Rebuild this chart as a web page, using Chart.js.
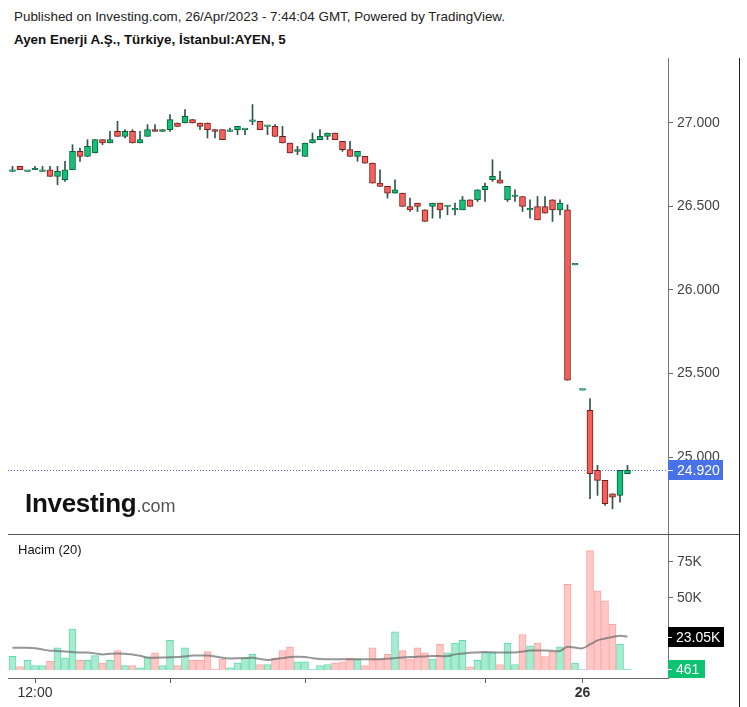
<!DOCTYPE html>
<html><head><meta charset="utf-8">
<script src="https://cdn.jsdelivr.net/npm/chart.js@4.4.0/dist/chart.umd.min.js"></script>
<style>
body{margin:0;background:#fff;width:747px;height:707px;position:relative;overflow:hidden;font-family:"Liberation Sans",Arial,sans-serif;}
.t1{position:absolute;left:14px;top:9px;font-size:13.4px;color:#222;white-space:nowrap;}
.t2{position:absolute;left:14px;top:32px;font-size:13.4px;font-weight:bold;color:#111;white-space:nowrap;}
#c1{position:absolute;left:0;top:58px;}
#c2{position:absolute;left:0;top:534px;}
.sep{position:absolute;left:8px;top:534px;width:731px;height:1px;background:#555;}
.rb{position:absolute;left:739px;top:58px;width:1px;height:649px;background:#222;}
.logo{position:absolute;left:25px;top:490px;line-height:26px;white-space:nowrap;}
.logo .a{font-size:26px;font-weight:bold;color:#111;letter-spacing:-0.3px;}
.logo .b{font-size:18px;color:#555;}
.hac{position:absolute;left:18px;top:542px;font-size:13px;color:#111;}
</style></head>
<body>
<div class="t1">Published on Investing.com, 26/Apr/2023 - 7:44:04 GMT, Powered by TradingView.</div>
<div class="t2">Ayen Enerji A.Ş., Türkiye, İstanbul:AYEN, 5</div>
<canvas id="c1" width="747" height="476"></canvas>
<canvas id="c2" width="747" height="173"></canvas>
<div class="sep"></div>
<div class="rb"></div>
<div class="logo"><span class="a">Investing</span><span class="b">.com</span></div>
<div class="hac">Hacim (20)</div>
<script>
// ---- data (5-minute candles) ----
const open  = [26.71,26.74,26.71,26.72,26.71,26.72,26.68,26.66,26.72,26.83,
               26.80,26.82,26.90,26.88,26.95,26.92,26.95,26.88,26.92,26.96,
               26.95,26.96,27.00,27.00,27.02,27.00,27.00,26.96,26.96,26.95,
               26.96,26.96,27.01,27.01,26.98,26.98,26.92,26.88,26.83,26.80,
               26.88,26.90,26.92,26.94,26.89,26.84,26.80,26.80,26.76,26.64,
               26.62,26.58,26.58,26.50,26.52,26.48,26.50,26.52,26.50,26.48,
               26.48,26.54,26.54,26.60,26.66,26.66,26.54,26.56,26.56,26.48,
               26.50,26.50,26.54,26.48,26.48,26.15,25.40,25.28,24.92,24.86,
               24.78,24.77,24.90];
const high  = [26.74,26.74,26.71,26.74,26.74,26.74,26.74,26.77,26.87,26.85,
               26.90,26.90,26.90,26.95,27.01,26.96,26.96,26.95,26.99,26.99,
               26.96,27.05,27.00,27.08,27.02,27.00,27.00,26.96,26.96,26.97,
               26.98,26.96,27.11,27.01,26.98,26.99,26.98,26.88,26.86,26.88,
               26.94,26.96,26.94,26.94,26.89,26.89,26.83,26.80,26.76,26.72,
               26.62,26.66,26.58,26.55,26.52,26.48,26.52,26.52,26.50,26.52,
               26.56,26.54,26.60,26.64,26.78,26.71,26.62,26.60,26.56,26.54,
               26.56,26.56,26.54,26.54,26.51,26.15,25.40,25.35,24.95,24.86,
               24.78,24.92,24.95];
const low   = [26.71,26.72,26.71,26.72,26.71,26.68,26.63,26.65,26.72,26.77,
               26.80,26.82,26.87,26.88,26.92,26.91,26.88,26.88,26.92,26.95,
               26.95,26.95,26.98,27.00,27.00,26.96,26.91,26.91,26.90,26.95,
               26.93,26.93,26.99,26.96,26.93,26.92,26.88,26.82,26.81,26.80,
               26.88,26.90,26.90,26.90,26.83,26.80,26.77,26.76,26.64,26.62,
               26.55,26.58,26.50,26.47,26.47,26.41,26.43,26.43,26.45,26.45,
               26.48,26.50,26.53,26.53,26.65,26.64,26.53,26.53,26.47,26.43,
               26.42,26.46,26.41,26.45,25.46,26.15,25.40,24.75,24.77,24.71,
               24.69,24.73,24.90];
const close = [26.71,26.72,26.71,26.72,26.71,26.68,26.71,26.72,26.83,26.80,
               26.86,26.90,26.88,26.90,26.92,26.95,26.88,26.90,26.96,26.95,
               26.96,27.02,26.98,27.04,27.00,26.98,26.96,26.95,26.90,26.95,
               26.98,26.96,27.01,26.96,26.98,26.92,26.88,26.82,26.84,26.88,
               26.90,26.92,26.94,26.90,26.84,26.80,26.83,26.76,26.64,26.62,
               26.58,26.60,26.50,26.48,26.50,26.41,26.52,26.48,26.50,26.48,
               26.54,26.50,26.60,26.62,26.68,26.64,26.62,26.56,26.50,26.48,
               26.42,26.46,26.48,26.52,25.46,26.15,25.40,24.90,24.86,24.72,
               24.76,24.92,24.92];
// volume in thousands
const volume = [9.4,2.4,6.6,3.1,3.1,5.9,15.4,8.2,28.4,6.6,
                6.6,10.0,4.7,6.6,13.5,3.1,3.1,1.5,8.5,11.9,
                3.1,20.5,3.1,15.4,6.6,6.6,12.8,0.6,7.5,1.5,
                4.7,8.2,10.8,3.8,3.8,8.2,13.5,16.1,5.7,5.7,
                0.3,3.1,3.8,4.7,5.7,8.2,7.5,3.1,15.4,7.5,
                10.8,26.5,13.5,7.5,15.4,11.9,7.5,17.7,11.9,18.6,
                20.5,2.2,6.6,11.9,11.9,3.8,18.6,3.8,24.6,16.8,
                18.6,9.2,12.6,16.1,59.4,4.7,0.2,82.8,55.0,48.0,
                31.6,17.7,0.461];
// 20-period volume average, thousands
const volumeMA = [15.4,15.4,15.4,15.0,14.2,13.4,13.2,12.8,12.4,12.1,
                  12.1,11.5,10.8,11.2,11.5,11.2,10.8,9.8,8.6,8.5,
                  8.6,8.8,8.9,9.4,10.0,10.0,10.0,9.4,8.5,8.0,
                  8.1,8.3,8.4,7.6,6.9,7.6,8.2,8.9,9.2,9.0,
                  8.2,7.6,7.5,7.5,7.5,7.5,7.5,7.5,7.5,7.5,
                  7.8,8.2,8.6,8.9,9.2,9.4,9.6,9.6,9.6,10.8,
                  11.4,11.9,12.1,12.4,12.2,12.1,12.1,12.1,12.8,13.5,
                  13.5,13.5,13.3,13.2,16.1,15.5,15.0,17.7,20.5,21.8,
                  22.8,23.8,23.05];
const priceTicks = [25.0, 25.5, 26.0, 26.5, 27.0];
const volumeTicks = [50, 75];
const timeTickIndex = [3, 21, 39, 63, 76];
const timeTickLabels = ['12:00', '', '', '', '26'];
const lastPrice = 24.92;
const lastVolumeMA = 23.05;
const lastVolume = 0.461;

// ---- styles ----
const FONT = '"Liberation Sans", Arial, sans-serif';
Chart.defaults.font.family = FONT;
const G_BODY = '#13c07a', G_EDGE = '#105c38';
const R_BODY = '#f4605a', R_EDGE = '#741c1c';
const WICK = '#2f5646';
const G_VOL = '#a9ebd0', G_VOL_E = '#62dbab';
const R_VOL = '#ffc8c6', R_VOL_E = '#ffa3a0';

const idx = open.map((_, i) => i);
const up = idx.map(i => close[i] >= open[i]);
const XMIN = -0.6, XMAX = 87.4;

function fixY(s) { s.width = 71; s.paddingTop = 0; s.paddingBottom = 0; }

const lastPricePlugin = {
  id: 'lastPrice',
  beforeDatasetsDraw(chart) {
    const {ctx, chartArea} = chart;
    const y = Math.round(chart.scales.y.getPixelForValue(lastPrice)) + 0.5;
    ctx.save();
    ctx.strokeStyle = '#4d6ff0';
    ctx.lineWidth = 1;
    ctx.setLineDash([1, 2]);
    ctx.beginPath(); ctx.moveTo(chartArea.left, y); ctx.lineTo(chartArea.right, y); ctx.stroke();
    ctx.restore();
  },
  afterDraw(chart) {
    const {ctx, chartArea} = chart;
    const y = Math.round(chart.scales.y.getPixelForValue(lastPrice));
    ctx.save();
    ctx.fillStyle = '#4a72e8';
    ctx.fillRect(chartArea.right, y - 10, 55, 20);
    ctx.fillStyle = '#ffffff';
    ctx.fillRect(chartArea.right, y, 5, 1);
    ctx.font = '14px ' + FONT;
    ctx.textBaseline = 'middle';
    ctx.fillText(lastPrice.toFixed(3), chartArea.right + 9, y + 1);
    ctx.restore();
  }
};

new Chart(document.getElementById('c1'), {
  type: 'bar',
  data: { datasets: [
    { data: idx.map(i => ({x: i, y: [open[i], close[i]]})),
      backgroundColor: idx.map(i => up[i] ? G_BODY : R_BODY),
      borderColor: idx.map(i => up[i] ? G_EDGE : R_EDGE),
      borderWidth: 1, borderSkipped: false, barThickness: 6, minBarLength: 1.5,
      grouped: false, order: 0 },
    { data: idx.map(i => ({x: i, y: [low[i], high[i]]})),
      backgroundColor: WICK, borderWidth: 0, barThickness: 1,
      grouped: false, order: 1 }
  ]},
  options: {
    responsive: false, animation: false, events: [],
    layout: { padding: { left: 8, right: 8, top: 0, bottom: 0 } },
    plugins: { legend: { display: false }, tooltip: { enabled: false } },
    scales: {
      x: { type: 'linear', min: XMIN, max: XMAX, offset: false, display: false },
      y: { position: 'right', min: 24.539, max: 27.389,
           afterBuildTicks: s => { s.ticks = priceTicks.map(v => ({value: v})); },
           afterFit: fixY,
           grid: { drawOnChartArea: false, tickLength: 5, color: '#666' },
           border: { color: '#777' },
           ticks: { padding: 4, color: '#444', font: { size: 14 }, callback: v => Number(v).toFixed(3) } }
    }
  },
  plugins: [lastPricePlugin]
});

const volLabelPlugin = {
  id: 'volLabels',
  afterDraw(chart) {
    const {ctx, chartArea} = chart;
    const ys = chart.scales.y;
    ctx.save();
    ctx.font = '14px ' + FONT;
    ctx.textBaseline = 'middle';
    let y = Math.round(ys.getPixelForValue(lastVolumeMA));
    ctx.fillStyle = '#000'; ctx.fillRect(chartArea.right, y - 10, 56, 20);
    ctx.fillStyle = '#fff'; ctx.fillRect(chartArea.right, y, 4, 1);
    ctx.fillText(lastVolumeMA.toFixed(2) + 'K', chartArea.right + 8, y + 1);
    y = Math.round(ys.getPixelForValue(lastVolume));
    ctx.fillStyle = '#0dc372'; ctx.fillRect(chartArea.right, y - 9, 37, 18);
    ctx.fillStyle = '#fff'; ctx.fillRect(chartArea.right, y, 4, 1);
    ctx.fillText(String(Math.round(lastVolume * 1000)), chartArea.right + 8, y + 1);
    ctx.restore();
  }
};

new Chart(document.getElementById('c2'), {
  type: 'bar',
  data: { datasets: [
    { type: 'line', data: idx.map(i => ({x: i, y: volumeMA[i]})),
      borderColor: 'rgba(105,105,105,0.7)', borderWidth: 2, pointRadius: 0, tension: 0.3, order: 0 },
    { data: idx.map(i => ({x: i, y: volume[i]})),
      backgroundColor: idx.map(i => up[i] ? G_VOL : R_VOL),
      borderColor: idx.map(i => up[i] ? G_VOL_E : R_VOL_E),
      borderWidth: 1, barThickness: 7, order: 1 }
  ]},
  options: {
    responsive: false, animation: false, events: [],
    layout: { padding: { left: 8, right: 8, top: 0, bottom: 0 } },
    plugins: { legend: { display: false }, tooltip: { enabled: false } },
    scales: {
      x: { type: 'linear', min: XMIN, max: XMAX, offset: false,
           afterBuildTicks: s => { s.ticks = timeTickIndex.map(v => ({value: v})); },
           afterFit: s => { s.height = 29; s.paddingLeft = 0; s.paddingRight = 0; },
           grid: { drawOnChartArea: false, tickLength: 5, color: '#666', offset: false },
           border: { color: '#666' },
           ticks: { autoSkip: false, maxRotation: 0, padding: 2, color: '#333',
                    font: c => ({ size: 14, weight: (c.tick && c.tick.label === '26') ? 'bold' : 'normal' }),
                    callback: v => { const k = timeTickIndex.indexOf(v); return k >= 0 ? timeTickLabels[k] : ''; } } },
      y: { position: 'right', min: -5.6, max: 94.4,
           afterBuildTicks: s => { s.ticks = volumeTicks.map(v => ({value: v})); },
           afterFit: fixY,
           grid: { drawOnChartArea: false, tickLength: 5, color: '#666' },
           border: { color: '#777' },
           ticks: { padding: 4, color: '#444', font: { size: 14 }, callback: v => v + 'K' } }
    }
  },
  plugins: [volLabelPlugin]
});
</script>
</body></html>
